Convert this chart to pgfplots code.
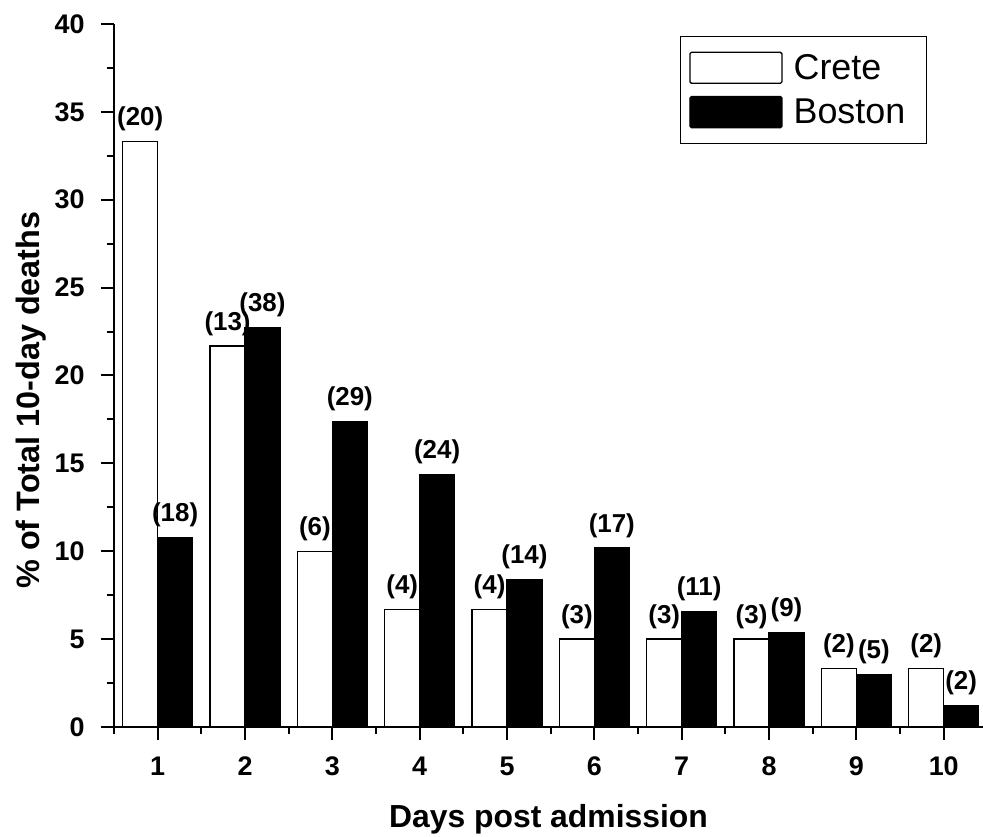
\documentclass[border=0pt]{standalone}
\usepackage{pgfplots}
\pgfplotsset{compat=1.18}
\usepackage{fontspec}
\setmainfont{Liberation Sans}
\pgfplotstableread{
x y n
1 33.33 20
2 21.67 13
3 10.00 6
4 6.67 4
5 6.67 4
6 5.00 3
7 5.00 3
8 5.00 3
9 3.33 2
10 3.33 2
}\crete
\pgfplotstableread{
x y n
1 10.78 18
2 22.75 38
3 17.37 29
4 14.37 24
5 8.38 14
6 10.18 17
7 6.59 11
8 5.39 9
9 2.99 5
10 1.20 2
}\boston
\begin{document}
\begin{tikzpicture}
\useasboundingbox (-114bp,-110bp) rectangle (869bp,727bp);
\begin{axis}[
  at={(0,0)}, anchor=south west,
  scale only axis, width=869bp, height=703bp,
  xmin=0.5, xmax=10.45, ymin=0, ymax=40,
  axis x line*=bottom, axis y line*=left,
  axis line style={line width=2bp},
  xtick={1,...,10}, minor xtick={0.5,1.5,...,10.5},
  ytick={0,5,...,40}, minor ytick={2.5,7.5,...,37.5},
  tick align=outside,
  major tick length=13bp, minor tick length=7bp,
  every tick/.style={black, line width=2bp},
  /pgf/number format/assume math mode=true,
  tick label style={font=\bfseries\fontsize{27}{27}\selectfont},
  yticklabel style={xshift=-13bp},
  xticklabel style={yshift=-13bp},
  clip=false,
  xlabel={Days post admission},
  xlabel style={font=\bfseries\fontsize{32}{32}\selectfont, at={(axis description cs:0.5,-0.11)}, anchor=north, inner sep=0pt},
  ylabel={\% of Total 10-day deaths},
  ylabel style={font=\bfseries\fontsize{32.5}{32.5}\selectfont, at={(axis description cs:-0.078,0.465)}, anchor=south, inner sep=0pt},
  legend image code/.code={\draw[#1, rounded corners=1.5bp] (0bp,-15.5bp) rectangle (92bp,15.5bp);},
  legend style={at={(0.9356,0.983)}, anchor=north east, draw=black, line width=1.5bp,
    font=\fontsize{36}{36}\selectfont, inner xsep=9bp, inner ysep=15bp, row sep=12bp, column sep=9bp,
    nodes={inner sep=2bp}},
  legend cell align=left,
  point meta=explicit symbolic,
  nodes near coords={(\pgfplotspointmeta)},
  every node near coord/.append style={font=\bfseries\fontsize{26}{26}\selectfont, anchor=south, inner sep=0pt, yshift=10bp},
]
\addplot[ybar, bar width=0.4, bar shift=-0.2, fill=white, draw=black, line width=1.3bp,
  every node near coord/.append style={xshift=-17.47bp}] table[x=x, y=y, meta=n]{\crete};
\addlegendentry{Crete}
\addplot[ybar, bar width=0.4, bar shift=0.2, fill=black, draw=black, line width=1.3bp,
  every node near coord/.append style={xshift=17.47bp}] table[x=x, y=y, meta=n]{\boston};
\addlegendentry{Boston\hspace*{10bp}}
\end{axis}
\end{tikzpicture}
\end{document}
